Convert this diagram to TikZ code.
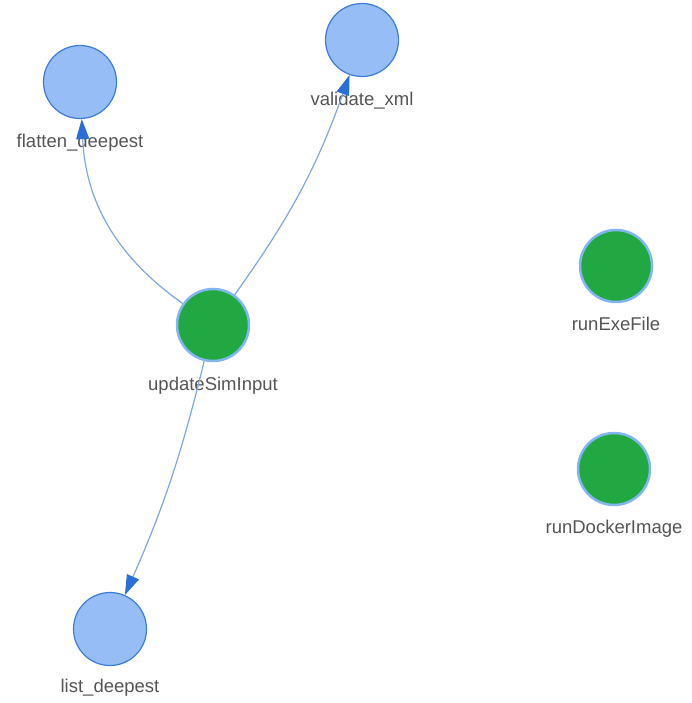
\documentclass[tikz,border=0pt]{standalone}
\usepackage{fontspec}
\setmainfont{Liberation Sans}
\usetikzlibrary{arrows.meta}
\definecolor{bluefill}{HTML}{97BDF7}
\definecolor{blueline}{HTML}{3F7CDA}
\definecolor{greenfill}{HTML}{22A843}
\definecolor{greenline}{HTML}{82B6F0}
\definecolor{edgecol}{HTML}{7DA7E6}
\definecolor{tipcol}{HTML}{2A6ED6}
\definecolor{labelcol}{HTML}{555555}
\tikzset{
  bnode/.style={circle, fill=bluefill, draw=blueline, line width=1.2pt, minimum size=73pt, inner sep=0pt},
  gnode/.style={circle, fill=greenfill, draw=greenline, line width=2.5pt, minimum size=72pt, inner sep=0pt},
  lbl/.style={text=labelcol, font=\fontsize{18.5}{22}\selectfont, inner sep=0pt},
  edge/.style={draw=edgecol, line width=1.2pt, -{Triangle[length=20pt,width=13pt,color=tipcol,fill=tipcol]}},
}
\begin{document}
\begin{tikzpicture}[x=1pt,y=1pt]
\useasboundingbox (0,0) rectangle (692,-703);
% labels
\node[lbl] (flatL) at (80,-143) {flatten\_deepest};
\node[lbl] (valL) at (362,-101) {validate\_xml};
\node[lbl] (updL) at (213,-386) {updateSimInput};
\node[lbl] (exeL) at (616,-324) {runExeFile};
\node[lbl] (dockL) at (614,-529) {runDockerImage};
\node[lbl] (listL) at (110,-688) {list\_deepest};
% nodes
\node[bnode] (flat) at (80,-82) {};
\node[bnode] (val) at (362,-40) {};
\node[gnode] (upd) at (213,-325) {};
\node[gnode] (exe) at (616,-266) {};
\node[gnode] (dock) at (614,-469) {};
\node[bnode] (list) at (110,-629) {};
% edges
\draw[edge] (upd) to[bend left=26] (flat);
\draw[edge] (upd) to[bend right=8] (val);
\draw[edge] (upd) to[bend left=5] (list);
\end{tikzpicture}
\end{document}
